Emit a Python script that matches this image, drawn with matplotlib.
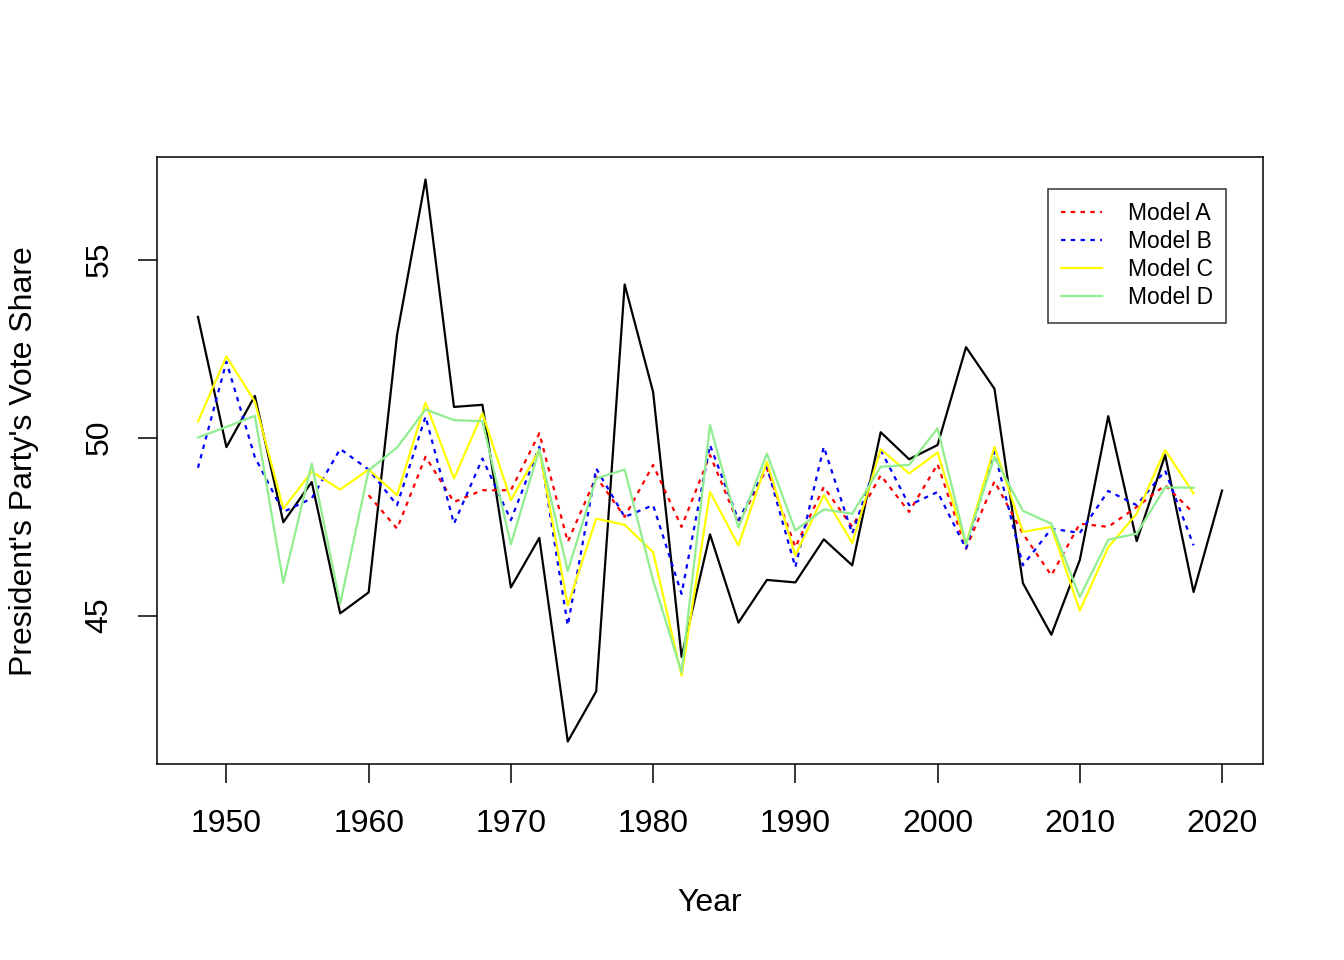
import numpy as np
import matplotlib
matplotlib.use("Agg")
import matplotlib.pyplot as plt

plt.rcParams['font.family'] = ['Liberation Sans', 'DejaVu Sans']

years = list(range(1948, 2022, 2))
actual = [53.39, 49.73, 51.17, 47.62, 48.75, 45.06, 45.65, 52.89, 57.25, 50.86,
          50.92, 45.79, 47.18, 41.46, 42.87, 54.30, 51.28, 43.84, 47.28, 44.80,
          46.00, 45.93, 47.14, 46.41, 50.15, 49.39, 49.79, 52.54, 51.37, 45.91,
          44.46, 46.56, 50.60, 47.09, 49.51, 45.66, 48.51]

years_a = list(range(1960, 2020, 2))
model_a = [48.38, 47.44, 49.46, 48.19, 48.52, 48.52, 50.12, 47.07, 48.90, 47.77,
           49.23, 47.49, 49.51, 47.58, 49.13, 46.92, 48.61, 47.49, 48.94, 47.91,
           49.25, 46.88, 48.77, 47.30, 46.13, 47.58, 47.49, 48.05, 48.66, 47.88]

years_m = list(range(1948, 2020, 2))
model_b = [49.15, 52.13, 49.45, 47.91, 48.29, 49.68, 49.10, 48.10, 50.59, 47.58,
           49.41, 47.68, 49.74, 44.72, 49.13, 47.77, 48.10, 45.61, 49.79, 47.68,
           49.18, 46.36, 49.74, 47.30, 49.65, 48.10, 48.47, 46.88, 49.60, 46.41,
           47.44, 47.32, 48.50, 48.10, 49.07, 46.97]
model_c = [50.45, 52.28, 51.01, 48.00, 49.04, 48.54, 49.10, 48.38, 50.98, 48.85,
           50.68, 48.24, 49.65, 45.28, 47.72, 47.55, 46.78, 43.31, 48.47, 46.97,
           49.32, 46.69, 48.38, 47.04, 49.67, 48.99, 49.58, 47.00, 49.74, 47.35,
           47.49, 45.14, 46.92, 47.86, 49.65, 48.43]
model_d = [50.00, 50.30, 50.61, 45.92, 49.27, 45.33, 49.08, 49.72, 50.79, 50.49,
           50.46, 47.00, 49.67, 46.25, 48.85, 49.10, 45.99, 43.40, 50.35, 47.47,
           49.55, 47.39, 47.98, 47.86, 49.18, 49.23, 50.26, 47.00, 49.46, 47.94,
           47.58, 45.52, 47.13, 47.30, 48.60, 48.59]

labels = ["Model A", "Model B", "Model C", "Model D"]
colors = ["red", "blue", "yellow", "lightgreen"]

fig = plt.figure(figsize=(13.44, 9.6), dpi=100)
ax = fig.add_axes([157/1344, 1-764/960, (1263-157)/1344, (764-157)/960])

lw = 1.6
dot = (0, (2, 2.4))
ax.plot(years, actual, color="black", lw=lw)
ax.plot(years_a, model_a, color=colors[0], lw=lw, linestyle=dot, label=labels[0])
ax.plot(years_m, model_b, color=colors[1], lw=lw, linestyle=dot, label=labels[1])
ax.plot(years_m, model_c, color=colors[2], lw=lw, label=labels[2])
ax.plot(years_m, model_d, color=colors[3], lw=lw, label=labels[3])

xr = years[-1] - years[0]
ax.set_xlim(years[0] - 0.04*xr, years[-1] + 0.04*xr)
ymin, ymax = min(actual), max(actual)
yr = ymax - ymin
ax.set_ylim(ymin - 0.04*yr, ymax + 0.04*yr)

ax.set_xticks([1950, 1960, 1970, 1980, 1990, 2000, 2010, 2020])
ax.set_yticks([45, 50, 55])
ax.tick_params(axis='both', direction='out', length=13.5, width=1.1,
               labelsize=23, color='black')
ax.tick_params(axis='x', pad=19)
ax.tick_params(axis='y', pad=17)
for lab in ax.get_yticklabels():
    lab.set_rotation(90)
    lab.set_va('center')
for s in ax.spines.values():
    s.set_linewidth(1.1)

fig.text((157+1263)/2/1344, 1-911/960, "Year", ha='center', va='baseline', fontsize=23)
fig.text(24/1344, 1-461/960, "President's Party's Vote Share", rotation=90,
         ha='center', va='center', fontsize=23)

leg = ax.legend(loc='upper right', bbox_to_anchor=((1226-157)/1106, (764-189)/607),
                borderaxespad=0, fontsize=16.5, frameon=True, fancybox=False,
                edgecolor='black', handlelength=1.8, handletextpad=1.1,
                labelspacing=0.22, borderpad=0.58)
leg.get_frame().set_linewidth(1.1)

fig.savefig("out.png", dpi=100)
